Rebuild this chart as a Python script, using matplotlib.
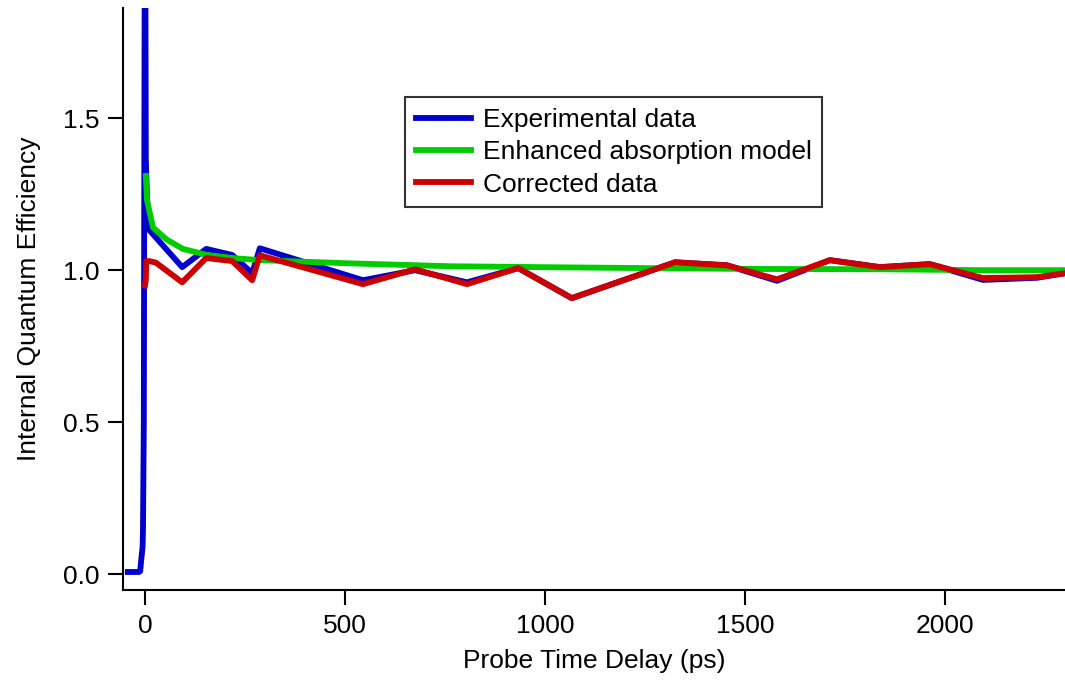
import numpy as np
import matplotlib.pyplot as plt

# values
exp_t = [-43, -15, -12, -10, -6, -5, -3, 0, 2, 3, 5, 8, 12, 93, 153, 218, 268, 287,
         545, 675, 805, 933, 1067, 1325, 1455, 1580, 1712, 1837, 1962, 2095, 2230, 2300]
exp_iqe = [0.007, 0.007, 0.01, 0.04, 0.09, 0.15, 0.5, 2.5, 1.37, 1.32, 1.24, 1.16, 1.13, 1.01, 1.07, 1.05, 0.99, 1.072,
           0.967, 1.0, 0.96, 1.007, 0.908, 1.026, 1.016, 0.965, 1.033, 1.01, 1.02, 0.968, 0.975, 0.99]

model_t = [2, 5, 20, 55, 95, 155, 218, 287, 500, 762, 987, 1325, 1537, 1837, 2095, 2300]
model_iqe = [1.31, 1.23, 1.14, 1.10, 1.07, 1.05, 1.04, 1.033, 1.023, 1.013, 1.01, 1.006, 1.004, 1.003, 1.0, 1.0]

corr_t = [0, 2, 3, 10, 27, 93, 153, 218, 268, 287, 545, 675, 805, 933, 1067, 1325, 1455, 1580,
          1712, 1837, 1962, 2095, 2230, 2300]
corr_iqe = [0.95, 0.967, 1.03, 1.03, 1.025, 0.96, 1.04, 1.03, 0.967, 1.049, 0.954, 1.003, 0.954, 1.007, 0.908,
            1.026, 1.016, 0.970, 1.033, 1.01, 1.02, 0.974, 0.977, 0.99]

plt.rcParams['font.family'] = ['Liberation Sans', 'DejaVu Sans']
fs = 19

fig = plt.figure(figsize=(10.65, 6.83), dpi=100)
ax = fig.add_axes([0.1155, 0.136, 0.8845, 0.852])

lw = 4.2
ax.plot(exp_t, exp_iqe, color='#0000cc', lw=lw, label='Experimental data')
ax.plot(model_t, model_iqe, color='#00cc00', lw=lw, label='Enhanced absorption model')
ax.plot(corr_t, corr_iqe, color='#cc0000', lw=lw, label='Corrected data')

ax.set_xlim(-55, 2300)
ax.set_ylim(-0.0526, 1.862)
ax.set_xticks([0, 500, 1000, 1500, 2000])
ax.set_yticks([0.0, 0.5, 1.0, 1.5])
ax.set_yticklabels(['0.0', '0.5', '1.0', '1.5'])

for s in ['top', 'right']:
    ax.spines[s].set_visible(False)
for s in ['left', 'bottom']:
    ax.spines[s].set_linewidth(1.5)
ax.tick_params(direction='out', length=11, width=1.5, labelsize=fs, pad=6)

ax.set_xlabel('Probe Time Delay (ps)', fontsize=fs, labelpad=8)
ax.set_ylabel('Internal Quantum Efficiency', fontsize=fs, labelpad=16)

leg = ax.legend(loc='upper left', bbox_to_anchor=(0.2995, 0.847), fontsize=fs, frameon=True,
                fancybox=False, edgecolor='black', handlelength=2.1, borderpad=0.4,
                labelspacing=0.32, handletextpad=0.45, borderaxespad=0)
leg.get_frame().set_linewidth(1.5)

fig.savefig('out.png', dpi=100)
